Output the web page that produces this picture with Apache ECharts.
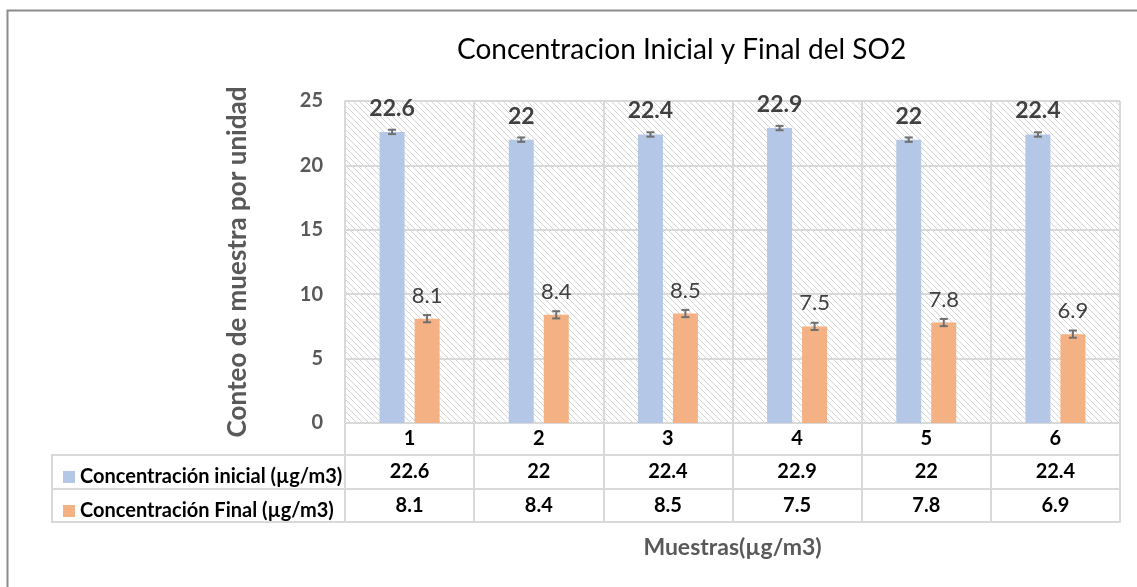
<!DOCTYPE html>
<html>
<head>
<meta charset="utf-8">
<script src="https://cdn.jsdelivr.net/npm/echarts@6/dist/echarts.min.js"></script>
<style>html,body{margin:0;padding:0;background:#fff;}#c{width:1137px;height:587px;}</style>
</head>
<body>
<div id="c"></div>
<script>
const categories = ['1', '2', '3', '4', '5', '6'];
const initialValues = [22.6, 22, 22.4, 22.9, 22, 22.4];
const finalValues = [8.1, 8.4, 8.5, 7.5, 7.8, 6.9];
const initialErrors = [0.17, 0.17, 0.17, 0.17, 0.17, 0.17];
const finalErrors = [0.28, 0.28, 0.28, 0.28, 0.28, 0.28];
const seriesNames = ['Concentración inicial (µg/m3)', 'Concentración Final (µg/m3)'];
const titleText = 'Concentracion Inicial y Final del SO2';
const yAxisName = 'Conteo de muestra por unidad';
const xAxisName = 'Muestras(µg/m3)';

const FONT = 'Lato, "Open Sans", sans-serif';
const GRID = '#d9d9d9';
const BLUE = '#b4c7e7';
const ORANGE = '#f4b183';

// hatch pattern
const tile = document.createElement('canvas');
tile.width = 6; tile.height = 6;
const tc = tile.getContext('2d');
tc.fillStyle = '#ffffff'; tc.fillRect(0, 0, 6, 6);
tc.strokeStyle = '#d4d4d4'; tc.lineWidth = 1;
for (let i = -6; i <= 6; i += 6) {
  tc.beginPath(); tc.moveTo(i, 0); tc.lineTo(i + 6, 6); tc.stroke();
}

const chart = echarts.init(document.getElementById('c'), null, {renderer: 'canvas'});

function errorSeries(name, values, errs, offset) {
  return {
    type: 'custom',
    name: name + ' err',
    xAxisIndex: 0,
    z: 5,
    silent: true,
    data: values.map((v, i) => [i, v, errs[i]]),
    renderItem: function (params, api) {
      const i = api.value(0), v = api.value(1), e = api.value(2);
      const hi = api.coord([i, v + e]);
      const lo = api.coord([i, v - e]);
      const x = hi[0] + offset;
      const cap = 4;
      const st = {stroke: '#6f6f6f', lineWidth: 2};
      return {
        type: 'group',
        children: [
          {type: 'line', shape: {x1: x, y1: hi[1], x2: x, y2: lo[1]}, style: st},
          {type: 'line', shape: {x1: x - cap, y1: hi[1], x2: x + cap, y2: hi[1]}, style: st},
          {type: 'line', shape: {x1: x - cap, y1: lo[1], x2: x + cap, y2: lo[1]}, style: st}
        ]
      };
    }
  };
}

const tableAxis = (data, offset, extra) => Object.assign({
  type: 'category',
  data: data,
  position: 'bottom',
  offset: offset,
  axisLine: {show: true, lineStyle: {color: GRID, width: 2}},
  axisTick: {show: false},
  splitLine: {show: false},
  axisLabel: {show: true, interval: 0, margin: 7, color: '#000', fontFamily: FONT, fontWeight: 'bold', fontSize: 20}
}, extra || {});

const option = {
  backgroundColor: '#fff',
  animation: false,
  title: {
    text: titleText,
    left: 452,
    top: 31,
    textStyle: {fontFamily: FONT, fontWeight: 'normal', fontSize: 28, color: '#000'}
  },
  legend: {
    orient: 'vertical',
    left: 58,
    top: 462,
    itemWidth: 12,
    itemHeight: 12,
    itemGap: 14,
    icon: 'rect',
    data: seriesNames,
    textStyle: {fontFamily: FONT, fontWeight: 'bold', fontSize: 20, color: '#000'}
  },
  grid: {
    left: 345, right: 17, top: 101, bottom: 164,
    show: true,
    borderWidth: 0,
    backgroundColor: {image: tile, repeat: 'repeat'}
  },
  xAxis: [
    {
      type: 'category',
      data: categories,
      position: 'bottom',
      axisLine: {show: true, lineStyle: {color: GRID, width: 2}},
      axisTick: {show: true, length: 99, interval: 0, lineStyle: {color: GRID, width: 2}},
      splitLine: {show: true, interval: 0, lineStyle: {color: GRID, width: 2}},
      axisLabel: {interval: 0, margin: 6, color: '#000', fontFamily: FONT, fontWeight: 'bold', fontSize: 20}
    },
    tableAxis(initialValues.map(String), 32),
    tableAxis(finalValues.map(String), 66),
    tableAxis(categories, 99, {
      axisLabel: {show: false},
      name: xAxisName,
      nameLocation: 'middle',
      nameGap: 14,
      nameTextStyle: {fontFamily: FONT, fontWeight: 'bold', fontSize: 23, color: '#595959'}
    })
  ],
  yAxis: {
    type: 'value',
    min: 0, max: 25, interval: 5,
    name: yAxisName,
    nameLocation: 'middle',
    nameRotate: 90,
    nameGap: 94,
    nameTextStyle: {fontFamily: FONT, fontWeight: 'bold', fontSize: 26, color: '#595959'},
    axisLine: {show: true, lineStyle: {color: GRID, width: 2}},
    axisTick: {show: false},
    splitLine: {show: true, lineStyle: {color: GRID, width: 2}},
    axisLabel: {margin: 22, color: '#595959', fontFamily: FONT, fontWeight: 'bold', fontSize: 20}
  },
  series: [
    {
      type: 'bar',
      name: seriesNames[0],
      data: initialValues,
      xAxisIndex: 0,
      barWidth: 25,
      barGap: '40%',
      itemStyle: {color: BLUE},
      label: {show: true, position: 'top', distance: 12, fontFamily: FONT, fontWeight: 'bold', fontSize: 23, color: '#404040'}
    },
    {
      type: 'bar',
      name: seriesNames[1],
      data: finalValues,
      xAxisIndex: 0,
      barWidth: 25,
      barGap: '40%',
      itemStyle: {color: ORANGE},
      label: {show: true, position: 'top', distance: 12, fontFamily: FONT, fontWeight: 'normal', fontSize: 22, color: '#404040'}
    },
    errorSeries(seriesNames[0], initialValues, initialErrors, -17.5),
    errorSeries(seriesNames[1], finalValues, finalErrors, 17.5)
  ],
  graphic: [
    {type: 'rect', left: 5, top: 8, shape: {width: 1300, height: 700}, style: {fill: 'none', stroke: '#8c8c8c', lineWidth: 2}, silent: true, z: -1},
    {type: 'rect', shape: {x: 52, y: 455, width: 293, height: 67}, style: {fill: 'none', stroke: GRID, lineWidth: 2}, silent: true},
    {type: 'line', shape: {x1: 52, y1: 489, x2: 345, y2: 489}, style: {stroke: GRID, lineWidth: 2}, silent: true}
  ]
};
chart.setOption(option);
</script>
</body>
</html>
